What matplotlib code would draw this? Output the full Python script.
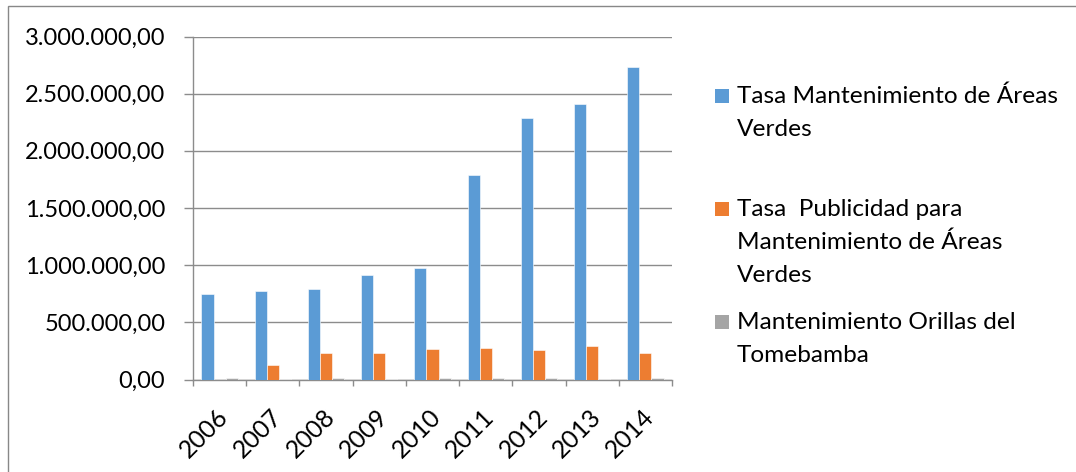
import matplotlib
matplotlib.use("Agg")
import matplotlib.pyplot as plt
import numpy as np
from matplotlib.patches import Rectangle
from matplotlib.ticker import FuncFormatter, FixedLocator

years = ["2006", "2007", "2008", "2009", "2010", "2011", "2012", "2013", "2014"]
series_names = [
    "Tasa Mantenimiento de Áreas\nVerdes",
    "Tasa  Publicidad para\nMantenimiento de Áreas\nVerdes",
    "Mantenimiento Orillas del\nTomebamba",
]
tasa_mant = [748000, 772000, 795000, 917000, 978000, 1790000, 2285000, 2410000, 2735000]
tasa_pub = [0, 124000, 236000, 236000, 265000, 274000, 256000, 291000, 233000]
orillas = [9000, 5000, 9000, 8000, 9000, 9000, 9000, 8000, 15000]
colors = ["#5B9BD5", "#ED7D31", "#A5A5A5"]
yticks = [0, 500000, 1000000, 1500000, 2000000, 2500000, 3000000]

FONT = "Lato"
FS_TICK = 17
FS_LEG = 17.6
W, H = 1076, 472
fig = plt.figure(figsize=(W / 100, H / 100), dpi=100)
plt.rcParams["font.family"] = [FONT, "DejaVu Sans"]

# outer chart border
fig.patches.append(Rectangle((8 / W, -0.1), 1.2, 1 - 6 / H + 0.1, transform=fig.transFigure,
                             fill=False, edgecolor="#888888", linewidth=1.0))

ax = fig.add_axes([193 / W, (H - 379.5) / H, (672 - 193) / W, (379.5 - 36.5) / H])
x = np.arange(len(years))
bw = 0.228
data = [tasa_mant, tasa_pub, orillas]
for i, (vals, c) in enumerate(zip(data, colors)):
    ax.bar(x + (i - 1) * bw, vals, width=bw, color=c, edgecolor="#ffffff", linewidth=0.4, zorder=3)

ax.set_xlim(-0.5, len(years) - 0.5)
ax.set_ylim(0, 3000000)
ax.set_yticks(yticks)

def fmt(v, pos):
    s = f"{int(round(v)):,}".replace(",", ".")
    return s + ",00"

ax.yaxis.set_major_formatter(FuncFormatter(fmt))
ax.grid(axis="y", color="#8c8c8c", linewidth=1.0, zorder=0)
ax.set_axisbelow(True)
for s in ["top", "right"]:
    ax.spines[s].set_visible(False)
for s in ["left", "bottom"]:
    ax.spines[s].set_color("#8c8c8c")
    ax.spines[s].set_linewidth(1.0)
ax.tick_params(axis="y", length=6.5, width=1.0, color="#8c8c8c", pad=13.5,
               labelsize=FS_TICK, labelcolor="#000000")
ax.set_xticks(x - 0.06)
ax.set_xticklabels(years, rotation=45, ha="right", rotation_mode="anchor")
ax.tick_params(axis="x", which="major", length=0, pad=18, labelsize=FS_TICK + 0.8, labelcolor="#000000")
ax.xaxis.set_minor_locator(FixedLocator(np.arange(-0.5, len(years), 1.0)))
ax.tick_params(axis="x", which="minor", length=4.5, width=1.0, color="#8c8c8c")
for lab in ax.get_xticklabels() + ax.get_yticklabels():
    lab.set_fontfamily([FONT, "DejaVu Sans"])

# legend (manual, Excel-like layout)
baselines = [103, 216, 329]
line_gap = 33
for name, c, b in zip(series_names, colors, baselines):
    fig.patches.append(Rectangle((715 / W, (H - b) / H), 14 / W, 14 / H, transform=fig.transFigure,
                                 facecolor=c, edgecolor="none"))
    for k, line in enumerate(name.split("\n")):
        fig.text(737 / W, (H - (b + k * line_gap)) / H, line, fontsize=FS_LEG, va="baseline",
                 ha="left", color="#000000", family=[FONT, "DejaVu Sans"])

fig.savefig("out.png", dpi=100)
